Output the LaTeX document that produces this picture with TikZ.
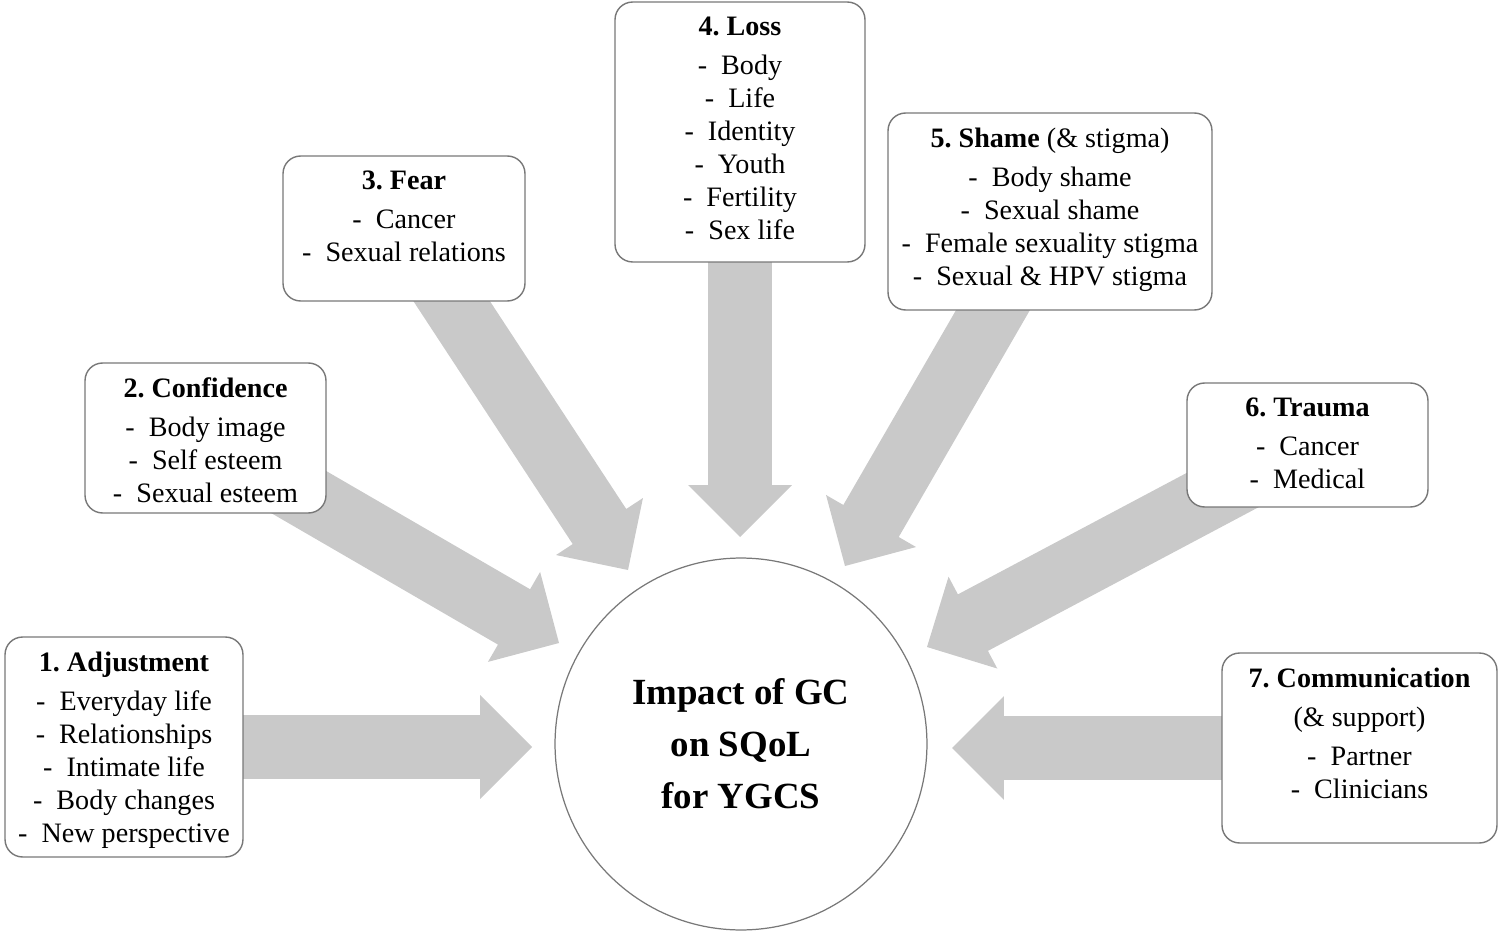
\documentclass[tikz,border=0pt]{standalone}
\usepackage{fontspec}
\setmainfont{Liberation Serif}
\usepackage{tikz}
\usetikzlibrary{positioning, calc, backgrounds}
\definecolor{arrowfill}{RGB}{201,201,201}
\definecolor{frame}{RGB}{120,120,120}
\frenchspacing

\begin{document}
\begin{tikzpicture}[
			x=0.02cm, y=-0.02cm,
			card/.style={draw=frame, line width=0.8pt, rounded corners=10pt, fill=white, inner sep=0pt},
			itemtext/.style={align=center, inner sep=0pt, font=\fontsize{16}{18.8}\selectfont},
			hub/.style={circle, draw=frame, line width=0.7pt, fill=white, minimum size=7.44cm,
				align=center, font=\fontsize{21}{29.6}\selectfont\bfseries},
			blockarrow/.style={fill=arrowfill}
			]
			\useasboundingbox (0,0) rectangle (1499,936);
			
			% Centre
			\node[hub] (hub) at (741,744) {Impact of GC\\on SQoL\\for YGCS};
			
			% Theme boxes
			\node[card, minimum width=4.76cm, minimum height=4.40cm] (b1) at (124,747) {};
			\node[card, minimum width=4.82cm, minimum height=3.00cm] (b2) at (205.5,438) {};
			\node[card, minimum width=4.84cm, minimum height=2.90cm] (b3) at (404,228.5) {};
			\node[card, minimum width=5.00cm, minimum height=5.20cm] (b4) at (740,132) {};
			\node[card, minimum width=6.48cm, minimum height=3.94cm] (b5) at (1050,211.5) {};
			\node[card, minimum width=4.82cm, minimum height=2.48cm] (b6) at (1307.5,445) {};
			\node[card, minimum width=5.50cm, minimum height=3.80cm] (b7) at (1359.5,748) {};
			
			% Box texts
			\node[itemtext, below=0.3cm of b1.north] (t1) {\textbf{1. Adjustment}\\[3.4pt]
				-~ Everyday life\\ -~ Relationships\\ -~ Intimate life\\ -~ Body changes\\ -~ New perspective};
			\node[itemtext, below=0.3cm of b2.north] (t2) {\textbf{2. Confidence}\\[3.4pt]
				-~ Body image\\ -~ Self esteem\\ -~ Sexual esteem};
			\node[itemtext, below=0.3cm of b3.north] (t3) {\textbf{3. Fear}\\[3.4pt]
				-~ Cancer\\ -~ Sexual relations};
			\node[itemtext, below=0.3cm of b4.north] (t4) {\textbf{4. Loss}\\[3.4pt]
				-~ Body\\ -~ Life\\ -~ Identity\\ -~ Youth\\ -~ Fertility\\ -~ Sex life};
			\node[itemtext, below=0.3cm of b5.north] (t5) {\textbf{5. Shame} (\& stigma)\\[3.4pt]
				-~ Body shame\\ -~ Sexual shame\\ -~ Female sexuality stigma\\ -~ Sexual \& HPV stigma};
			\node[itemtext, below=0.3cm of b6.north] (t6) {\textbf{6. Trauma}\\[3.4pt]
				-~ Cancer\\ -~ Medical};
			\node[itemtext, below=0.3cm of b7.north] (t7) {\textbf{7. Communication}\\[3.4pt]
				(\& support)\\[3.4pt] -~ Partner\\ -~ Clinicians};
			
			% Arrow tips round the centre
			\coordinate (tip1) at (532,747);
			\coordinate (tip2) at (559,643);
			\coordinate (tip3) at (628,570);
			\coordinate (tip4) at (740,537);
			\coordinate (tip5) at (845,566);
			\coordinate (tip6) at (927,647);
			\coordinate (tip7) at (952,748);
			
			% Block arrows behind the boxes
			\begin{scope}[on background layer]
				\foreach \i in {1,...,7} {
					\coordinate (hb) at ($(tip\i)!1.04cm!(b\i.center)$);
					\fill[blockarrow] ($(b\i.center)!0.64cm!90:(tip\i)$) -- ($(hb)!0.64cm!90:(tip\i)$)
						-- ($(hb)!1.04cm!90:(tip\i)$) -- (tip\i) -- ($(hb)!1.04cm!-90:(tip\i)$)
						-- ($(hb)!0.64cm!-90:(tip\i)$) -- ($(b\i.center)!0.64cm!-90:(tip\i)$) -- cycle;
				}
			\end{scope}
			
		\end{tikzpicture}
\end{document}
